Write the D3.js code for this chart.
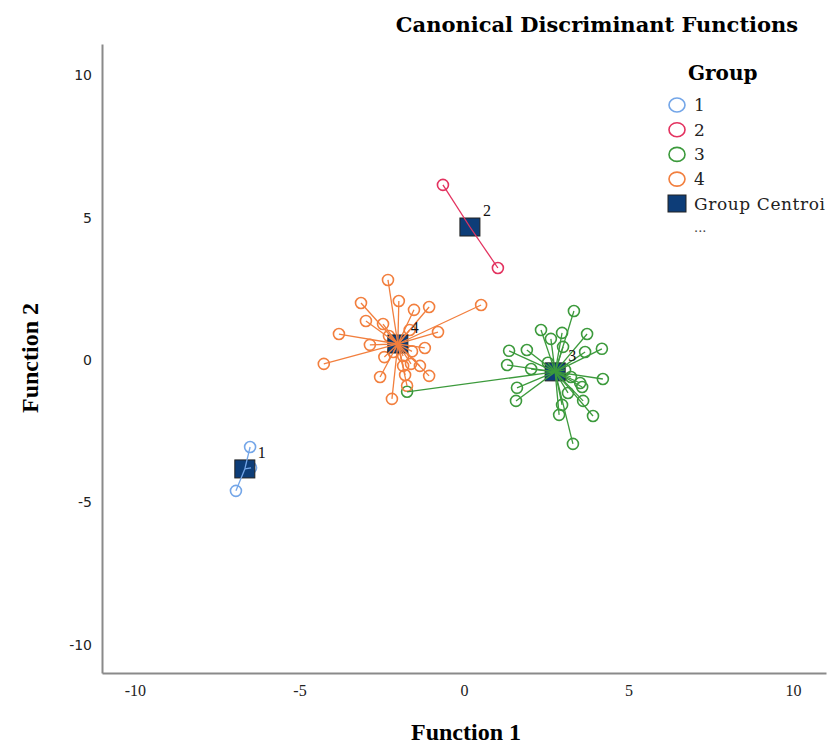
<!DOCTYPE html>
<html>
<head>
<meta charset="utf-8">
<script src="https://cdn.jsdelivr.net/npm/d3@7.9.0/dist/d3.min.js"></script>
<style>
  body { margin: 0; background: #fff; }
  svg { display: block; }
</style>
</head>
<body>
<svg id="chart" width="832" height="747"></svg>
<script>
// groups and colours
const groups = ['1', '2', '3', '4'];
const groupColors = ['#74a6e8', '#e3325f', '#3c9a3c', '#f27f3e'];
const centroidColor = '#0d3d78';

// discriminant scores per case (Function 1, Function 2)
const group1F1 = [-6.50, -6.93, -6.47];
const group1F2 = [-3.06, -4.60, -3.79];

const group2F1 = [-0.64, 1.03];
const group2F2 = [6.15, 3.23];

const group3F1 = [3.34, 2.34, 2.64, 2.98, 3.74, 4.19, 3.68, 1.91, 1.37, 1.31, 2.04, 3.01, 4.22, 3.53,
                  3.59, 1.61, 1.58, 3.62, 3.16, 2.98, 3.92, 2.89, 3.31, -1.73, 3.07, 2.55, 3.25];
const group3F2 = [1.72, 1.05, 0.74, 0.95, 0.91, 0.39, 0.28, 0.35, 0.32, -0.18, -0.32, 0.46, -0.67, -0.81,
                  -0.95, -0.98, -1.44, -1.44, -1.16, -1.58, -1.97, -1.93, -2.95, -1.12, -0.35, -0.10, -0.60];

const group4F1 = [-2.31, -1.98, -3.13, -1.52, -1.06, 0.52, -2.98, -2.46, -3.80, -0.79, -2.86, -1.19, -4.26, -2.55,
                  -1.79, -1.06, -2.19, -1.73, -1.61, -1.34, -1.85, -2.28, -1.65, -2.15, -1.85, -2.42, -1.58];
const group4F2 = [2.81, 2.07, 2.00, 1.76, 1.86, 1.93, 1.37, 1.26, 0.91, 0.98, 0.53, 0.42, -0.14, -0.60,
                  -0.53, -0.56, -1.37, -0.91, -0.14, -0.21, -0.21, 0.84, 1.05, 0.28, 0.14, 0.10, 0.30];

// group centroids
const centroidF1 = [-6.66, 0.18, 2.77, -2.01];
const centroidF2 = [-3.83, 4.67, -0.42, 0.56];

const xTicks = [-10, -5, 0, 5, 10];
const yTicks = [-10, -5, 0, 5, 10];

const caseF1 = [group1F1, group2F1, group3F1, group4F1];
const caseF2 = [group1F2, group2F2, group3F2, group4F2];

const svg = d3.select('#chart');

const x = d3.scaleLinear().domain([-11, 11]).range([102, 826]);
const y = d3.scaleLinear().domain([-11, 11.1]).range([673, 44]);

// axes (plain hyphen for negatives, like the original)
const xAxis = svg.append('g')
  .attr('transform', 'translate(0,673)')
  .call(d3.axisBottom(x).tickValues(xTicks).tickSize(0).tickPadding(12).tickFormat(d => String(d)));
xAxis.select('.domain').attr('stroke', '#8a8a8a').attr('stroke-width', 2);
xAxis.selectAll('text')
  .attr('font-family', 'Liberation Serif, serif')
  .attr('font-size', 16)
  .attr('fill', '#222');

const yAxis = svg.append('g')
  .attr('transform', 'translate(102,0)')
  .call(d3.axisLeft(y).tickValues(yTicks).tickSize(0).tickPadding(10).tickFormat(d => String(d)));
yAxis.select('.domain').attr('stroke', '#8a8a8a').attr('stroke-width', 2);
yAxis.selectAll('text')
  .attr('font-family', 'DejaVu Sans, sans-serif')
  .attr('font-size', 14)
  .attr('fill', '#222');

// titles
svg.append('text')
  .attr('x', 597).attr('y', 32)
  .attr('text-anchor', 'middle')
  .attr('font-family', 'DejaVu Serif, serif')
  .attr('font-weight', 'bold')
  .attr('font-size', 21)
  .text('Canonical Discriminant Functions');

svg.append('text')
  .attr('x', 466).attr('y', 740)
  .attr('text-anchor', 'middle')
  .attr('font-family', 'Liberation Serif, serif')
  .attr('font-weight', 'bold')
  .attr('font-size', 24)
  .text('Function 1');

svg.append('text')
  .attr('transform', 'translate(38,358) rotate(-90)')
  .attr('text-anchor', 'middle')
  .attr('font-family', 'Liberation Serif, serif')
  .attr('font-weight', 'bold')
  .attr('font-size', 24)
  .text('Function 2');

// case circles (under the centroids)
const plot = svg.append('g');
groups.forEach((g, i) => {
  const pts = caseF1[i].map((v, j) => [v, caseF2[i][j]]);
  plot.append('g').selectAll('circle')
    .data(pts)
    .join('circle')
    .attr('cx', d => x(d[0]))
    .attr('cy', d => y(d[1]))
    .attr('r', 5.5)
    .attr('fill', 'none')
    .attr('stroke', groupColors[i])
    .attr('stroke-width', 1.6);
});

// centroid squares
plot.append('g').selectAll('rect')
  .data(groups)
  .join('rect')
  .attr('x', (d, i) => x(centroidF1[i]) - 10)
  .attr('y', (d, i) => y(centroidF2[i]) - 9)
  .attr('width', 20)
  .attr('height', 18)
  .attr('fill', centroidColor)
  .attr('stroke', '#222')
  .attr('stroke-width', 1);

// lines from centroid to each case
groups.forEach((g, i) => {
  const pts = caseF1[i].map((v, j) => [v, caseF2[i][j]]);
  plot.append('g').selectAll('line')
    .data(pts)
    .join('line')
    .attr('x1', x(centroidF1[i]))
    .attr('y1', y(centroidF2[i]))
    .attr('x2', d => x(d[0]))
    .attr('y2', d => y(d[1]))
    .attr('stroke', groupColors[i])
    .attr('stroke-width', 1.3);
});

// centroid labels
plot.append('g').selectAll('text')
  .data(groups)
  .join('text')
  .attr('x', (d, i) => x(centroidF1[i]) + 13)
  .attr('y', (d, i) => y(centroidF2[i]) - 11)
  .attr('font-family', 'Liberation Serif, serif')
  .attr('font-size', 16)
  .attr('fill', '#111')
  .text(d => d);

// legend
const legend = svg.append('g');
legend.append('text')
  .attr('x', 688).attr('y', 80)
  .attr('font-family', 'DejaVu Serif, serif')
  .attr('font-weight', 'bold')
  .attr('font-size', 20)
  .text('Group');

groups.forEach((g, i) => {
  const ly = 105 + i * 24.7;
  legend.append('ellipse')
    .attr('cx', 677).attr('cy', ly)
    .attr('rx', 8).attr('ry', 7)
    .attr('fill', 'none')
    .attr('stroke', groupColors[i])
    .attr('stroke-width', 1.6);
  legend.append('text')
    .attr('x', 694).attr('y', ly + 6)
    .attr('font-family', 'DejaVu Serif, serif')
    .attr('font-size', 17)
    .attr('letter-spacing', 0.6)
    .attr('fill', '#222')
    .text(g);
});

legend.append('rect')
  .attr('x', 668).attr('y', 195)
  .attr('width', 18).attr('height', 17)
  .attr('fill', centroidColor)
  .attr('stroke', '#222');
legend.append('text')
  .attr('x', 694).attr('y', 210)
  .attr('font-family', 'DejaVu Serif, serif')
  .attr('font-size', 17)
  .attr('letter-spacing', 0.6)
  .attr('fill', '#222')
  .text('Group Centroi');
legend.append('text')
  .attr('x', 694).attr('y', 232)
  .attr('font-family', 'DejaVu Serif, serif')
  .attr('font-size', 13)
  .attr('fill', '#444')
  .text('...');
</script>
</body>
</html>
